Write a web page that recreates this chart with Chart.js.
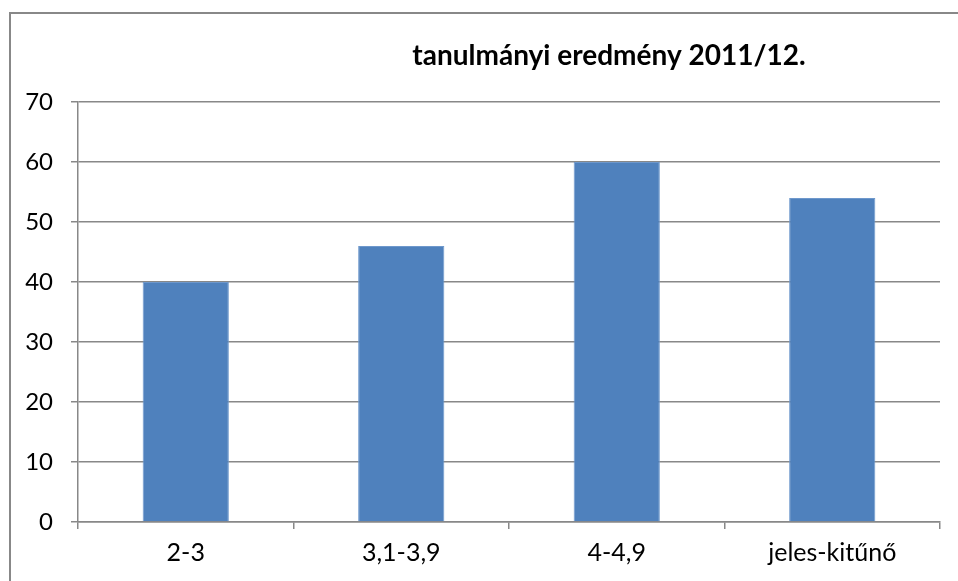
<!DOCTYPE html>
<html lang="hu">
<head>
<meta charset="UTF-8">
<script src="https://cdn.jsdelivr.net/npm/chart.js"></script>
<style>
    body { margin: 0; background: #fff; }
    #wrap { position: relative; width: 958px; height: 581px; overflow: hidden; }
    #frame { position: absolute; left: 9px; top: 12px; width: 980px; height: 620px; border: 2px solid #888; box-sizing: border-box; }
    canvas { position: absolute; left: 0; top: 0; }
</style>
</head>
<body>
<div id="wrap">
    <div id="frame"></div>
    <canvas id="chart" width="958" height="581"></canvas>
</div>
<script>
    // data
    const chartTitle = 'tanulmányi eredmény 2011/12.';
    const categories = ['2-3', '3,1-3,9', '4-4,9', 'jeles-kitűnő'];
    const values = [40, 46, 60, 54];
    const yTicks = [0, 10, 20, 30, 40, 50, 60, 70];

    const fontFam = 'Lato, "Open Sans", sans-serif';

    // title drawn at the spot where the original sits (right of centre)
    const titlePlugin = {
        id: 'offTitle',
        afterDraw(chart) {
            const ctx = chart.ctx;
            ctx.save();
            ctx.font = 'bold 28px ' + fontFam;
            ctx.fillStyle = '#000';
            ctx.textAlign = 'center';
            ctx.textBaseline = 'middle';
            ctx.fillText(chartTitle, 609, 56);
            ctx.restore();
        }
    };

    new Chart(document.getElementById('chart'), {
        type: 'bar',
        data: {
            labels: categories,
            datasets: [{
                data: values,
                backgroundColor: '#4F81BD',
                borderColor: '#6e98cc',
                borderWidth: 1,
                barPercentage: 0.4,
                categoryPercentage: 1
            }]
        },
        options: {
            responsive: false,
            animation: false,
            layout: { padding: { left: 0, top: 102, right: 18, bottom: 0 } },
            plugins: { legend: { display: false }, tooltip: { enabled: false } },
            scales: {
                x: {
                    grid: { drawOnChartArea: false, drawTicks: true, tickLength: 7, color: '#888', lineWidth: 1.5 },
                    border: { color: '#888', width: 1.5 },
                    ticks: { color: '#000', font: { family: fontFam, size: 25 }, padding: 9, maxRotation: 0 },
                    afterFit(scale) { scale.height = 59; }
                },
                y: {
                    min: 0, max: 70,
                    afterBuildTicks(scale) { scale.ticks = yTicks.map(v => ({ value: v })); },
                    grid: { color: '#888', lineWidth: 1.5, tickLength: 7 },
                    border: { color: '#888', width: 1.5 },
                    ticks: { color: '#000', font: { family: fontFam, size: 24 }, padding: 18 },
                    afterFit(scale) { scale.width = 78; }
                }
            }
        },
        plugins: [titlePlugin]
    });
</script>
</body>
</html>
